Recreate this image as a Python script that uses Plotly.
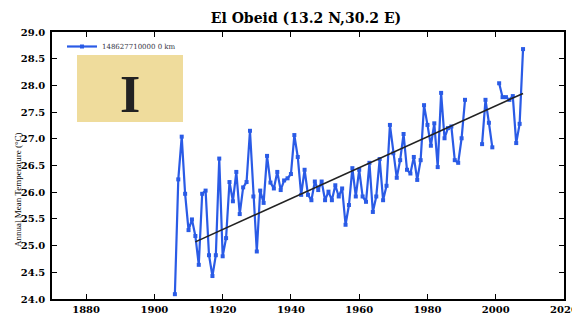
import plotly.graph_objects as go

years = list(range(1906, 2009))
temps = [
    24.09, 26.24, 27.04, 25.97, 25.29, 25.49, 25.18, 24.64, 25.97, 26.03,  # 1906-1915
    24.82, 24.43, 24.82, 26.63, 24.80, 25.14, 26.19, 25.83, 26.38, 25.59,  # 1916-1925
    26.09, 26.19, 27.15, 25.92, 24.89, 26.03, 25.80, 26.68, 26.18, 26.07,  # 1926-1935
    26.38, 26.04, 26.22, 26.26, 26.34, 27.07, 26.66, 25.95, 26.42, 25.95,  # 1936-1945
    25.85, 26.20, 26.04, 26.20, 25.85, 26.01, 25.85, 26.13, 25.92, 26.07,  # 1946-1955
    25.39, 25.76, 26.45, 25.92, 26.42, 25.92, 25.82, 26.55, 25.63, 25.92,  # 1956-1965
    26.62, 25.85, 26.12, 27.26, 26.73, 26.27, 26.60, 27.09, 26.42, 26.35,  # 1966-1975
    26.66, 26.23, 26.60, 27.63, 27.26, 26.87, 27.29, 26.47, 27.86, 27.01,  # 1976-1985
    27.20, 27.23, 26.60, 26.55, 27.01, 27.73, None, None, None, None,      # 1986-1995
    26.90, 27.73, 27.30, 26.84, None, 28.04, 27.78, 27.78, 27.73, 27.80,   # 1996-2005
    26.92, 27.28, 28.68,                                                   # 2006-2008
]
trend_years = [1912, 2008]
trend_values = [25.07, 27.85]

series_name = "148627710000 0 km"
title_text = "El Obeid (13.2 N,30.2 E)"
y_title = "Annual Mean Temperature (°C)"
x_ticks = [1880, 1900, 1920, 1940, 1960, 1980, 2000, 2020]
y_ticks = [24.0, 24.5, 25.0, 25.5, 26.0, 26.5, 27.0, 27.5, 28.0, 28.5, 29.0]

blue = "#2a5be6"
serif = "DejaVu Serif"

# The page body has an 8px margin, so the figure is 8px smaller than the window.
W, H = 572, 307
PL, PT, PW, PH = 52, 32, 512, 267  # plot area in window pixels


def px_x(x):
    return (x - PL) / PW


def px_y(y):
    return (PT + PH - y) / PH


fig = go.Figure()
fig.add_trace(go.Scatter(
    x=years, y=temps, mode="lines+markers", name=series_name,
    line=dict(color=blue, width=2.2), marker=dict(color=blue, size=4, symbol="square"),
    connectgaps=False,
))
fig.add_trace(go.Scatter(
    x=trend_years, y=trend_values, mode="lines", showlegend=False,
    line=dict(color="#222222", width=1.6),
))

axis_common = dict(
    showgrid=False, zeroline=False, showline=True, linecolor="black", linewidth=1.6,
    mirror="ticks", ticks="inside", ticklen=5, tickwidth=1.4, tickcolor="black",
    tickfont=dict(family=serif, size=10, color="black", weight="bold"),
)
fig.update_xaxes(range=[1870, 2020], tickvals=x_ticks,
                 ticktext=[str(v) for v in x_ticks], **axis_common)
fig.update_yaxes(range=[24.0, 29.0], tickvals=y_ticks,
                 ticktext=[f"{v:.1f}" for v in y_ticks], ticklabelstandoff=3, **axis_common)

fig.add_annotation(
    xref="paper", yref="paper", x=px_x(11), y=px_y(190), text=y_title, textangle=-90,
    showarrow=False, font=dict(family="Liberation Serif", size=9, color="black"),
)
# Panel label "I" on a tan box
fig.add_shape(type="rect", xref="paper", yref="paper",
              x0=px_x(77), x1=px_x(183), y0=px_y(122), y1=px_y(55),
              fillcolor="#efdc9c", line=dict(width=0), layer="below")
fig.add_annotation(
    xref="paper", yref="paper", x=px_x(118), y=px_y(64), text="<b>I</b>",
    showarrow=False, font=dict(family="Liberation Serif", size=52, color="#222222"),
)

fig.update_layout(
    width=W, height=H,
    margin=dict(l=PL - 8, r=W + 8 - PL - PW, t=PT - 8, b=H + 8 - PT - PH, autoexpand=False),
    paper_bgcolor="white", plot_bgcolor="white",
    title=dict(text=title_text, x=(306 - 8) / W, xanchor="center",
               y=1 - (18 - 8) / H, yanchor="middle",
               font=dict(family=serif, size=14, color="black", weight="bold")),
    legend=dict(x=px_x(62), y=1.0, xanchor="left", yanchor="top", bgcolor="rgba(0,0,0,0)",
                font=dict(family=serif, size=7, color="#334"), borderwidth=0,
                tracegroupgap=0),
    showlegend=True,
)

fig.write_html("out.html")
